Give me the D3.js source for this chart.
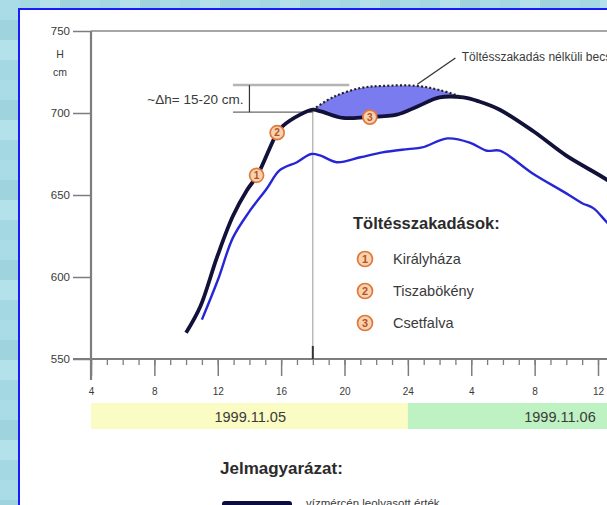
<!DOCTYPE html>
<html>
<head>
<meta charset="utf-8">
<script src="https://cdn.jsdelivr.net/npm/d3@7"></script>
<style>
  html, body { margin: 0; padding: 0; overflow: hidden; }
  svg { display: block; font-family: "Liberation Sans", Arial, sans-serif; }
</style>
</head>
<body>
<div id="chart"></div>
<script>
const width = 607;
const height = 505;

// measured stage (thick dark line)
const measuredHours  = [10.0, 10.9, 11.95, 12.95, 13.85, 14.5, 15.75, 16.1, 17.2, 18.0, 18.5, 19.9, 21.4, 23.3, 24.6, 26.0, 27.5, 28.5, 29.8, 31.9, 34.0, 36.6, 37.5];
const measuredLevels = [566, 582, 612, 637, 653, 662, 688, 692, 699, 702, 701, 697, 697.5, 699, 704, 709.5, 709.5, 707, 702, 689, 674, 659, 652];

// second gauge (thin blue line)
const blueHours  = [11.0, 12.0, 12.96, 14.0, 15.1, 15.9, 17.0, 17.9, 18.5, 19.5, 21.0, 22.4, 24.0, 24.9, 26.5, 27.9, 29.0, 29.8, 31.9, 34.0, 35.0, 35.7, 36.6, 37.5];
const blueLevels = [574, 598, 624, 640, 654, 665, 670, 675, 674, 670, 673, 676, 678, 679, 684.5, 682, 677, 677, 663, 651, 645, 642, 633, 625];

// estimated stage without the breaches (dotted)
const estHours  = [18.0, 19.3, 21.0, 22.4, 24.6, 26.0, 27.5];
const estLevels = [702, 709.8, 715.2, 716.5, 716.5, 714, 709.5];

// breach markers
const breachIds    = [1, 2, 3];
const breachNames  = ["Királyháza", "Tiszabökény", "Csetfalva"];
const breachHours  = [14.45, 15.75, 21.6];
const breachLevels = [662, 688, 697.5];

const yTicks = [550, 600, 650, 700, 750];
const hourTicks = d3.range(4, 38);
const majorHours = [4, 8, 12, 16, 20, 24, 28, 32, 36];

const dayLabels = ["1999.11.05", "1999.11.06"];
const dayStart  = [4, 24];
const dayEnd    = [24, 40];

const svg = d3.select("#chart").append("svg")
  .attr("width", width).attr("height", height);

// tiled background
const shades = ["#a9dce6", "#9fd4df", "#b3e2ea", "#a4d8e3"];
const bg = svg.append("g");
for (let i = 0; i < 32; i++) {
  for (let j = 0; j < 27; j++) {
    bg.append("rect")
      .attr("x", i * 20).attr("y", j * 20)
      .attr("width", 20).attr("height", 20)
      .attr("fill", shades[(i * 7 + j * 13 + (i * j) % 3) % 4]);
  }
}

// white panel
svg.append("rect")
  .attr("x", 19).attr("y", 9)
  .attr("width", 700).attr("height", 600)
  .attr("fill", "#ffffff")
  .attr("stroke", "#1a1aff").attr("stroke-width", 2);

const x = d3.scaleLinear().domain([4, 36]).range([91, 598]);
const y = d3.scaleLinear().domain([550, 750]).range([359, 31]);

const grey = "#7d7d7d";
const textColor = "#3a3a3a";

// date bands
const bands = svg.append("g");
const bandColors = ["#fbfbc4", "#bff2c2"];
dayLabels.forEach((lab, i) => {
  bands.append("rect")
    .attr("x", x(dayStart[i])).attr("y", 403)
    .attr("width", x(dayEnd[i]) - x(dayStart[i])).attr("height", 26)
    .attr("fill", bandColors[i]);
});
bands.selectAll("text")
  .data(dayLabels)
  .join("text")
  .attr("x", (d, i) => i === 0 ? x(14.05) : x(33.6))
  .attr("y", 422)
  .attr("text-anchor", "middle")
  .attr("font-size", 14.5)
  .attr("fill", textColor)
  .text(d => d);

// frame lines
svg.append("line")
  .attr("x1", x(4)).attr("x2", 620)
  .attr("y1", y(750)).attr("y2", y(750))
  .attr("stroke", "#8a8a8a").attr("stroke-width", 1.5);

// y axis
const yAxis = d3.axisLeft(y).tickValues(yTicks).tickSize(18).tickPadding(3);
const gy = svg.append("g").attr("transform", `translate(${x(4)},0)`).call(yAxis);
gy.select(".domain").remove();
gy.selectAll("line").attr("stroke", grey).attr("stroke-width", 1.5);
gy.selectAll("text").attr("font-size", 11.5).attr("fill", textColor);

svg.append("line")
  .attr("x1", x(4)).attr("x2", x(4))
  .attr("y1", y(750)).attr("y2", 380)
  .attr("stroke", grey).attr("stroke-width", 2.2);

svg.append("text").attr("x", 60).attr("y", 58)
  .attr("text-anchor", "middle").attr("font-size", 10.5).attr("fill", textColor).text("H");
svg.append("text").attr("x", 60).attr("y", 76)
  .attr("text-anchor", "middle").attr("font-size", 10.5).attr("fill", textColor).text("cm");

// x axis: hourly minor ticks, 4-hour major ticks with labels
const gxMinor = svg.append("g").attr("transform", `translate(0,${y(550)})`)
  .call(d3.axisBottom(x).tickValues(hourTicks).tickSize(6).tickFormat(""));
gxMinor.select(".domain").remove();
gxMinor.selectAll("line").attr("stroke", grey).attr("stroke-width", 1.3);

const gxMajor = svg.append("g").attr("transform", `translate(0,${y(550)})`)
  .call(d3.axisBottom(x).tickValues(majorHours).tickSize(17).tickPadding(12)
    .tickFormat(d => d % 24 === 0 ? 24 : d % 24));
gxMajor.select(".domain").remove();
gxMajor.selectAll("line").attr("stroke", grey).attr("stroke-width", 1.5);
gxMajor.selectAll("text").attr("font-size", 10).attr("fill", textColor);

svg.append("line")
  .attr("x1", 73).attr("x2", 620)
  .attr("y1", y(550)).attr("y2", y(550))
  .attr("stroke", grey).attr("stroke-width", 2.2);

// vertical marker at 18h
svg.append("line")
  .attr("x1", x(18)).attr("x2", x(18))
  .attr("y1", y(702)).attr("y2", y(550))
  .attr("stroke", "#9a9a9a").attr("stroke-width", 1);
svg.append("line")
  .attr("x1", x(18)).attr("x2", x(18))
  .attr("y1", y(550) - 13).attr("y2", y(550))
  .attr("stroke", "#333").attr("stroke-width", 2);

const measured = measuredHours.map((h, i) => [h, measuredLevels[i]]);
const blue = blueHours.map((h, i) => [h, blueLevels[i]]);
const est = estHours.map((h, i) => [h, estLevels[i]]);

const line = d3.line()
  .x(d => x(d[0])).y(d => y(d[1]))
  .curve(d3.curveCatmullRom.alpha(0.5));

// fill between estimated and measured
const lower = measured.filter(d => d[0] >= 18 && d[0] <= 27.5).reverse();
svg.append("path")
  .attr("d", line(est.concat(lower)) + "Z")
  .attr("fill", "#7b7bf0");

// annotation bracket
svg.append("line")
  .attr("x1", x(12.96)).attr("x2", x(20.3))
  .attr("y1", y(717)).attr("y2", y(717))
  .attr("stroke", "#b4b4b4").attr("stroke-width", 2.5);
svg.append("line")
  .attr("x1", x(12.96)).attr("x2", x(18))
  .attr("y1", y(700.5)).attr("y2", y(700.5))
  .attr("stroke", "#6a6a6a").attr("stroke-width", 1.3);
svg.append("line")
  .attr("x1", x(14.0)).attr("x2", x(14.0))
  .attr("y1", y(717)).attr("y2", y(700.5))
  .attr("stroke", "#333").attr("stroke-width", 1.2);
svg.append("text")
  .attr("x", x(14.0) - 6).attr("y", y(708.3) + 5)
  .attr("text-anchor", "end").attr("font-size", 13.5).attr("fill", textColor)
  .text("~Δh= 15-20 cm.");

// lines
svg.append("path").datum(blue)
  .attr("d", line).attr("fill", "none")
  .attr("stroke", "#2626d6").attr("stroke-width", 2.4);

svg.append("path").datum(measured)
  .attr("d", line).attr("fill", "none")
  .attr("stroke", "#11113a").attr("stroke-width", 3.8);

svg.append("path").datum(est)
  .attr("d", line).attr("fill", "none")
  .attr("stroke", "#222").attr("stroke-width", 2.2)
  .attr("stroke-dasharray", "2,2.2");

// leader line + label
svg.append("line")
  .attr("x1", x(24.6)).attr("y1", y(717.5))
  .attr("x2", x(27.0)).attr("y2", y(733.5))
  .attr("stroke", "#333").attr("stroke-width", 1.3);
svg.append("text")
  .attr("x", x(27.4)).attr("y", y(734) + 4)
  .attr("font-size", 12).attr("fill", textColor)
  .text("Töltésszakadás nélküli becsült vízszint");

// breach markers on the curve
function marker(g, cx, cy, id, r) {
  g.append("circle")
    .attr("cx", cx).attr("cy", cy).attr("r", r)
    .attr("fill", "#f7d2b0").attr("stroke", "#e0783a").attr("stroke-width", 1.7);
  g.append("text")
    .attr("x", cx).attr("y", cy + r * 0.5)
    .attr("text-anchor", "middle").attr("font-size", r * 1.45).attr("font-weight", "bold")
    .attr("fill", "#b8501e").text(id);
}
const mk = svg.append("g");
breachIds.forEach((id, i) => marker(mk, x(breachHours[i]), y(breachLevels[i]), id, 7));

// breach legend
const leg = svg.append("g");
leg.append("text")
  .attr("x", 353).attr("y", 229)
  .attr("font-size", 16.5).attr("font-weight", "bold").attr("fill", "#2b2b2b")
  .text("Töltésszakadások:");
breachNames.forEach((name, i) => {
  const cy = 259 + i * 32;
  marker(leg, 365, cy, breachIds[i], 7.5);
  leg.append("text")
    .attr("x", 393).attr("y", cy + 5)
    .attr("font-size", 14.5).attr("fill", textColor)
    .text(name);
});

// bottom legend
svg.append("text")
  .attr("x", 220).attr("y", 474)
  .attr("font-size", 17).attr("font-weight", "bold").attr("fill", "#2b2b2b")
  .text("Jelmagyarázat:");
svg.append("rect")
  .attr("x", 222).attr("y", 501).attr("width", 70).attr("height", 16).attr("rx", 3)
  .attr("fill", "#0c0c40");
svg.append("text")
  .attr("x", 306).attr("y", 507)
  .attr("font-size", 11.5).attr("fill", textColor)
  .text("vízmércén leolvasott érték");
</script>
</body>
</html>
